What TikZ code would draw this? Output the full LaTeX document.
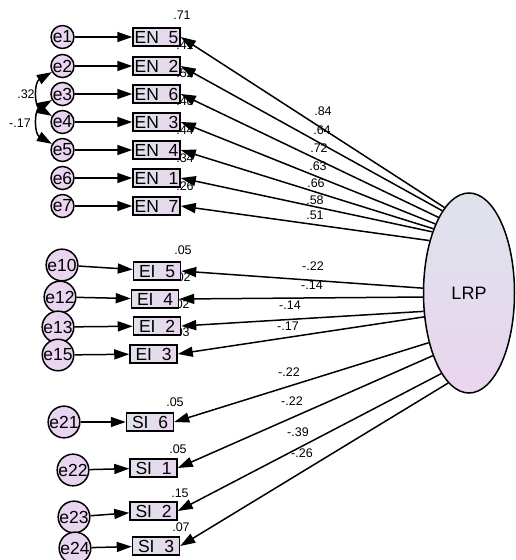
\documentclass[tikz,border=0pt]{standalone}
\usepackage{fontspec}
\setmainfont{Liberation Sans}
\usetikzlibrary{arrows.meta,shapes.geometric}
\definecolor{lav}{HTML}{E9D5EF}
\definecolor{gry}{HTML}{DEE3EB}
\begin{document}
\begin{tikzpicture}[x=1pt,y=1pt,>={Triangle[length=15pt,width=10pt]},line width=1.5pt,
  ob/.style={draw,rectangle,left color=gry,right color=lav,minimum width=47pt,minimum height=18pt,
    inner sep=0pt,text height=12.5pt,text depth=0pt,font=\fontsize{17.5}{17.5}\selectfont},
  er/.style={draw,circle,fill=lav,minimum size=21pt,inner sep=0pt,font=\fontsize{17.5}{17.5}\selectfont},
  lb/.style={inner sep=0pt,font=\fontsize{12.5}{12.5}\selectfont}]
    \useasboundingbox (0,0) rectangle (515,-560);
    % squared multiple correlations
    \node[lb] (r1) at (182,-15) {.71};
    \node[lb] (r2) at (185,-45) {.41};
    \node[lb] (r3) at (185,-73) {.52};
    \node[lb] (r4) at (185,-101) {.40};
    \node[lb] (r5) at (185,-130) {.44};
    \node[lb] (r6) at (185,-158) {.34};
    \node[lb] (r7) at (185,-186) {.26};
    \node[lb] (r10) at (183,-250) {.05};
    \node[lb] (r12) at (182,-277) {.02};
    \node[lb] (r13) at (181,-304) {.02};
    \node[lb] (r15) at (181,-332) {.03};
    \node[lb] (r21) at (175,-402) {.05};
    \node[lb] (r22) at (178,-449) {.05};
    \node[lb] (r23) at (180,-493) {.15};
    \node[lb] (r24) at (181,-527) {.07};
    % observed items
    \node[ob] (EN5) at (156.5,-37) {EN\_5};
    \node[ob] (EN2) at (156.5,-66) {EN\_2};
    \node[ob] (EN6) at (156.5,-94) {EN\_6};
    \node[ob] (EN3) at (156.5,-122) {EN\_3};
    \node[ob] (EN4) at (156.5,-150) {EN\_4};
    \node[ob] (EN1) at (156.5,-178) {EN\_1};
    \node[ob] (EN7) at (156.5,-206) {EN\_7};
    \node[ob] (EI5) at (157,-271) {EI\_5};
    \node[ob] (EI4) at (155,-299) {EI\_4};
    \node[ob] (EI2) at (157,-326) {EI\_2};
    \node[ob] (EI3) at (153.5,-354) {EI\_3};
    \node[ob] (SI6) at (150,-422) {SI\_6};
    \node[ob] (SI1) at (153.5,-468) {SI\_1};
    \node[ob] (SI2) at (153.5,-511) {SI\_2};
    \node[ob] (SI3) at (156,-546) {SI\_3};
    % errors
    \node[er] (e1) at (62.5,-37) {e1};
    \node[er] (e2) at (62.5,-66) {e2};
    \node[er] (e3) at (62.5,-94) {e3};
    \node[er] (e4) at (62.5,-122) {e4};
    \node[er] (e5) at (62.5,-150) {e5};
    \node[er] (e6) at (62.5,-178) {e6};
    \node[er] (e7) at (62.5,-206) {e7};
    \node[er] (e10) at (62,-265) {e10};
    \node[er] (e12) at (60,-297) {e12};
    \node[er] (e13) at (58,-327) {e13};
    \node[er] (e15) at (58,-355) {e15};
    \node[er] (e21) at (64,-422) {e21};
    \node[er] (e22) at (73,-470) {e22};
    \node[er] (e23) at (74,-517) {e23};
    \node[er] (e24) at (75,-548) {e24};
    % latent
    \node[draw,ellipse,minimum width=91pt,minimum height=200pt,top color=gry,bottom color=lav,
      font=\fontsize{18}{18}\selectfont] (LRP) at (469,-293) {LRP};
    \foreach \a/\b in {e1/EN5,e2/EN2,e3/EN6,e4/EN3,e5/EN4,e6/EN1,e7/EN7,e10/EI5,e12/EI4,
      e13/EI2,e15/EI3,e21/SI6,e22/SI1,e23/SI2,e24/SI3}
        \draw[->](\a)--(\b);
    \foreach \t/\b in {106/EN5,108.5/EN2,112.5/EN6,116.5/EN3,119/EN4,121.5/EN1,127/EN7,
      174/EI5,185/EI4,202/EI2,208/EI3,231/SI6,240/SI1,251/SI2,257/SI3}
        \draw[->](LRP.\t)--(\b.east);
    \draw[<->](e2) to[out=210,in=150,looseness=1.2] (e4);
    \draw[<->](e3) to[out=210,in=150,looseness=1.2] (e5);
    \node[lb] (c1) at (26,-94) {.32};
    \node[lb] (c2) at (20,-123) {-.17};
    % loadings
    \node[lb] (l1) at (323,-111) {.84};
    \node[lb] (l2) at (322,-130) {.64};
    \node[lb] (l3) at (319,-148) {.72};
    \node[lb] (l4) at (318,-166) {.63};
    \node[lb] (l5) at (316,-183) {.66};
    \node[lb] (l6) at (315,-200) {.58};
    \node[lb] (l7) at (315,-215) {.51};
    \node[lb] (l10) at (313,-266) {-.22};
    \node[lb] (l12) at (312,-285) {-.14};
    \node[lb] (l13) at (290,-305) {-.14};
    \node[lb] (l15) at (288,-326) {-.17};
    \node[lb] (l21) at (289,-372) {-.22};
    \node[lb] (l22) at (292,-401) {-.22};
    \node[lb] (l23) at (298,-432) {-.39};
    \node[lb] (l24) at (302,-453) {-.26};
\end{tikzpicture}
\end{document}
